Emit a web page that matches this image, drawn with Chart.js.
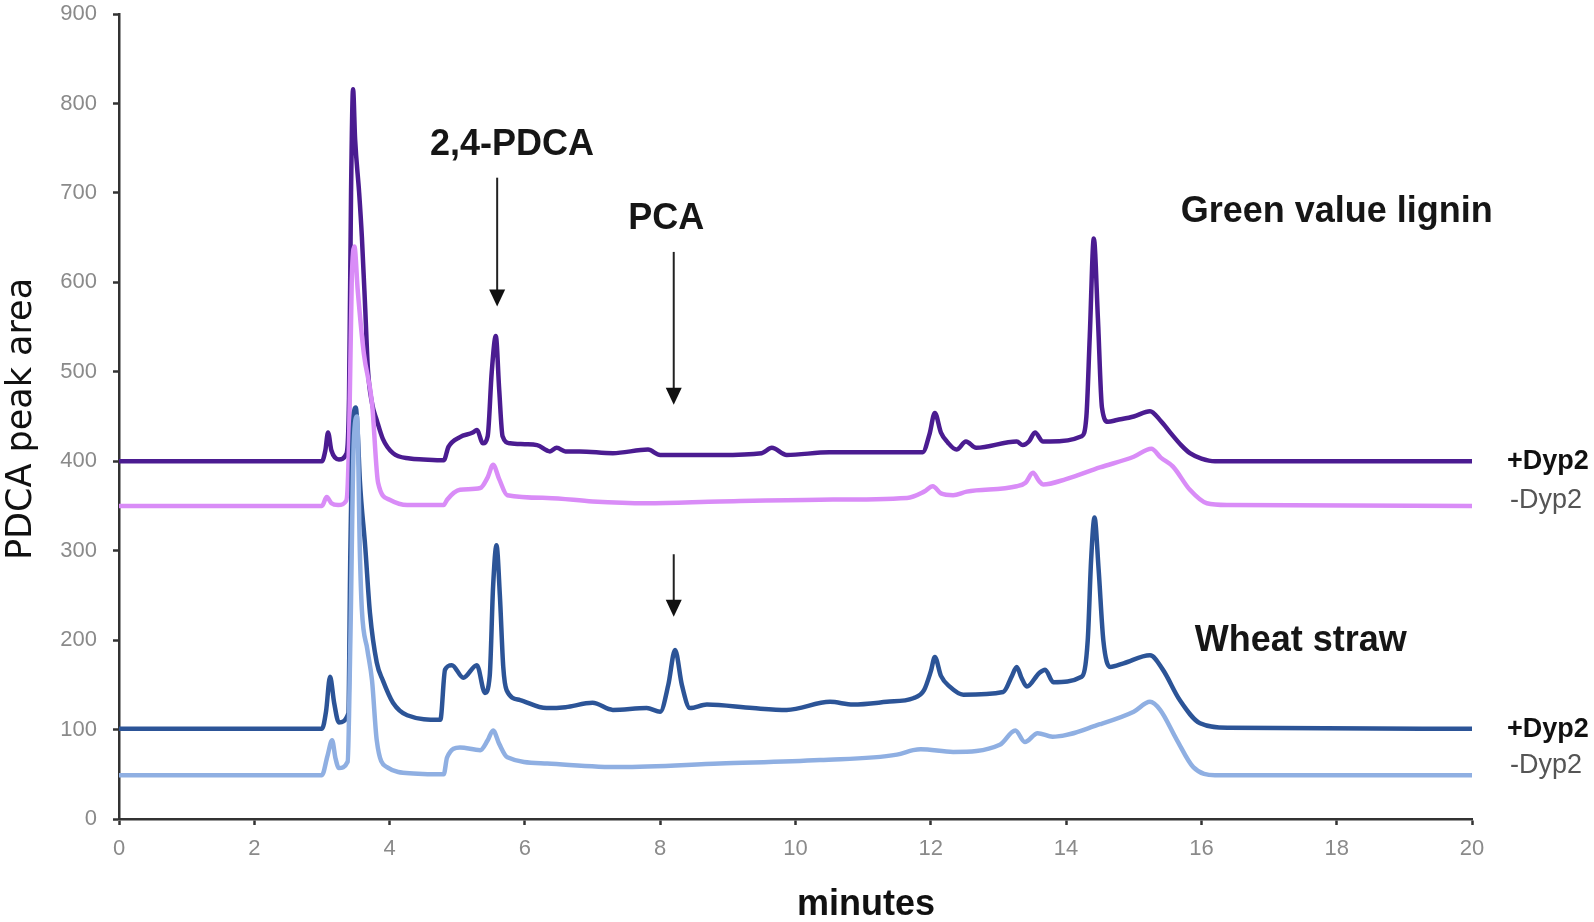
<!DOCTYPE html>
<html>
<head>
<meta charset="utf-8">
<script src="https://cdn.jsdelivr.net/npm/chart.js@4"></script>
<style>
  html, body { margin: 0; padding: 0; background: #fff; }
  #wrap { width: 1594px; height: 922px; position: relative; }
</style>
</head>
<body>
<div id="wrap"><canvas id="chromChart"></canvas></div>
<script>
/* ---------------------------------------
   CHROMATOGRAM DATA (minutes / peak area)
--------------------------------------- */

// Green value lignin, +Dyp2
const ligninPlusTime = [0, 3.0, 3.05, 3.09, 3.14, 3.25, 3.36, 3.40, 3.43, 3.46, 3.49, 3.55, 3.59, 3.64, 3.68, 3.74, 3.81, 3.9, 4.05, 4.3, 4.5, 4.8, 4.87, 5.04, 5.23, 5.29, 5.38, 5.45, 5.51, 5.57, 5.62, 5.67, 5.78, 6.0, 6.18, 6.37, 6.47, 6.6, 6.81, 7.3, 7.82, 8.0, 8.88, 9.5, 9.65, 9.87, 10.5, 11.35, 11.88, 11.98, 12.06, 12.15, 12.25, 12.38, 12.52, 12.67, 13.27, 13.36, 13.45, 13.54, 13.66, 13.76, 14.23, 14.3, 14.35, 14.41, 14.47, 14.53, 14.62, 14.75, 15.0, 15.24, 15.4, 15.54, 15.7, 15.83, 16.0, 16.2, 20];
const ligninPlusArea = [400, 400, 412, 432, 412, 402, 408, 470, 700, 816, 760, 700, 651, 570, 502, 465, 446, 425, 409, 403, 402, 401, 416, 427, 432, 435, 420, 428, 500, 540, 480, 428, 420, 419, 418, 411, 415, 411, 411, 409, 413, 407, 407, 409, 415, 407, 410, 410, 410, 430, 454, 432, 421, 413, 422, 415, 422, 418, 422, 432, 422, 422, 428, 450, 540, 649, 560, 460, 444, 446, 450, 456, 445, 432, 418, 409, 403, 400, 400];

// Green value lignin, -Dyp2
const ligninMinusTime = [0, 3.0, 3.07, 3.14, 3.24, 3.36, 3.40, 3.44, 3.48, 3.53, 3.62, 3.74, 3.83, 4.0, 4.26, 4.8, 4.85, 5.04, 5.34, 5.45, 5.53, 5.62, 5.74, 6.33, 7.0, 7.8, 8.88, 10.36, 11.65, 11.9, 12.03, 12.15, 12.33, 12.53, 13.27, 13.4, 13.51, 13.6, 13.66, 14.0, 14.5, 15.0, 15.26, 15.4, 15.58, 15.83, 16.08, 16.4, 20];
const ligninMinusArea = [350, 350, 360, 353, 351, 356, 420, 600, 640, 590, 520, 465, 376, 357, 351, 351, 357, 368, 370, 382, 396, 380, 362, 359, 355, 353, 355, 357, 359, 366, 372, 364, 362, 366, 372, 376, 387, 378, 374, 380, 393, 405, 414, 404, 394, 368, 353, 351, 350];

// Wheat straw, +Dyp2
const wheatPlusTime = [0, 3.0, 3.06, 3.12, 3.18, 3.25, 3.39, 3.42, 3.46, 3.5, 3.53, 3.56, 3.64, 3.71, 3.81, 3.9, 4.05, 4.26, 4.75, 4.82, 4.92, 5.09, 5.29, 5.41, 5.48, 5.53, 5.58, 5.63, 5.68, 5.73, 5.93, 6.32, 6.6, 7.0, 7.3, 7.8, 8.0, 8.12, 8.22, 8.32, 8.44, 8.69, 9.37, 9.87, 10.51, 10.85, 11.35, 11.74, 11.9, 12.0, 12.06, 12.15, 12.28, 12.48, 13.07, 13.2, 13.27, 13.34, 13.42, 13.6, 13.69, 13.81, 14.23, 14.32, 14.37, 14.42, 14.48, 14.55, 14.65, 14.85, 15.24, 15.43, 15.68, 15.98, 16.4, 20];
const wheatPlusArea = [101, 101, 120, 159, 130, 108, 118, 300, 440, 460, 430, 379, 304, 230, 175, 155, 130, 116, 111, 167, 172, 158, 172, 141, 160, 260, 306, 250, 170, 144, 133, 124, 125, 130, 122, 124, 120, 150, 189, 150, 124, 128, 124, 122, 131, 128, 131, 135, 144, 165, 181, 160, 148, 139, 142, 160, 170, 158, 148, 163, 167, 153, 159, 200, 290, 337, 280, 200, 170, 174, 183, 167, 133, 107, 102, 101];

// Wheat straw, -Dyp2
const wheatMinusTime = [0, 3.0, 3.08, 3.15, 3.2, 3.25, 3.38, 3.42, 3.47, 3.52, 3.56, 3.59, 3.67, 3.74, 3.81, 3.96, 4.35, 4.8, 4.85, 5.04, 5.34, 5.45, 5.53, 5.62, 5.74, 6.33, 7.4, 8.88, 10.36, 11.5, 11.74, 11.85, 12.33, 13.02, 13.25, 13.39, 13.58, 13.8, 14.5, 15.0, 15.24, 15.39, 15.64, 15.88, 16.2, 20];
const wheatMinusArea = [49, 49, 70, 88, 68, 57, 64, 200, 420, 450, 300, 234, 190, 155, 88, 58, 51, 50, 69, 80, 77, 88, 99, 84, 69, 62, 58, 62, 66, 72, 77, 78, 75, 83, 99, 86, 96, 92, 106, 120, 131, 122, 88, 58, 49, 49];

// axis ticks
const xTicks = [0, 2, 4, 6, 8, 10, 12, 14, 16, 18, 20];
const yTicks = [0, 100, 200, 300, 400, 500, 600, 700, 800, 900];

function toPoints(t, a) {
    return t.map((x, i) => ({ x: x, y: a[i] }));
}

const FONT = '"Liberation Sans", Arial, sans-serif';

/* ---------------------------------------
   TEXT + ARROW OVERLAY
--------------------------------------- */
function drawArrow(ctx, x, yTop, yTip) {
    ctx.beginPath();
    ctx.moveTo(x, yTop);
    ctx.lineTo(x, yTip - 14);
    ctx.lineWidth = 2;
    ctx.strokeStyle = '#222';
    ctx.stroke();
    ctx.beginPath();
    ctx.moveTo(x - 8, yTip - 17);
    ctx.lineTo(x + 8, yTip - 17);
    ctx.lineTo(x, yTip);
    ctx.closePath();
    ctx.fillStyle = '#111';
    ctx.fill();
}

const overlayPlugin = {
    id: 'overlay',
    afterDraw(chart) {
        const ctx = chart.ctx;
        const xs = chart.scales.x, ys = chart.scales.y;
        const px = v => xs.getPixelForValue(v);
        const py = v => ys.getPixelForValue(v);
        ctx.save();

        // peak annotations
        ctx.fillStyle = '#161616';
        ctx.textAlign = 'center';
        ctx.textBaseline = 'middle';
        ctx.font = 'bold 36px ' + FONT;
        ctx.fillText('2,4-PDCA', px(5.81), py(754));
        ctx.fillText('PCA', px(8.09), py(671));
        ctx.fillText('Green value lignin', px(18.0), py(678));
        ctx.fillText('Wheat straw', px(17.47), py(199));

        drawArrow(ctx, px(5.59), py(717), py(573));
        drawArrow(ctx, px(8.2), py(634), py(463));
        drawArrow(ctx, px(8.2), py(296), py(226));

        // trace labels at the right end
        const lx = chart.chartArea.right + 35;
        ctx.textAlign = 'left';
        ctx.fillStyle = '#111';
        ctx.font = 'bold 27px ' + FONT;
        ctx.fillText('+Dyp2', lx, py(400));
        ctx.fillText('+Dyp2', lx, py(100));
        ctx.fillStyle = '#555';
        ctx.font = '27px ' + FONT;
        ctx.fillText('-Dyp2', lx + 3, py(350) - 5);
        ctx.fillText('-Dyp2', lx + 3, py(49) - 10);

        // axis titles
        ctx.fillStyle = '#111';
        ctx.textAlign = 'center';
        ctx.font = 'bold 36px ' + FONT;
        ctx.fillText('minutes', 866, 905);
        ctx.translate(22, 419);
        ctx.rotate(-Math.PI / 2);
        ctx.font = '35px "DejaVu Sans", sans-serif';
        ctx.fillText('PDCA peak area', 0, 0);
        ctx.restore();
    }
};

/* ---------------------------------------
   CHART
--------------------------------------- */
const lineBase = {
    pointRadius: 0,
    borderWidth: 4.5,
    fill: false,
    cubicInterpolationMode: 'monotone',
    borderJoinStyle: 'round',
    borderCapStyle: 'round'
};

new Chart(document.getElementById('chromChart'), {
    type: 'line',
    data: {
        datasets: [
            Object.assign({ label: 'Green value lignin +Dyp2', data: toPoints(ligninPlusTime, ligninPlusArea), borderColor: '#4b1c91', order: 4 }, lineBase),
            Object.assign({ label: 'Green value lignin -Dyp2', data: toPoints(ligninMinusTime, ligninMinusArea), borderColor: '#d98cf7', order: 3 }, lineBase),
            Object.assign({ label: 'Wheat straw +Dyp2', data: toPoints(wheatPlusTime, wheatPlusArea), borderColor: '#2c5497', order: 2 }, lineBase),
            Object.assign({ label: 'Wheat straw -Dyp2', data: toPoints(wheatMinusTime, wheatMinusArea), borderColor: '#8fafe2', order: 1 }, lineBase)
        ]
    },
    options: {
        responsive: true,
        maintainAspectRatio: false,
        animation: false,
        layout: { padding: { top: 14, right: 122, left: 0, bottom: 0 } },
        plugins: { legend: { display: false }, tooltip: { enabled: false } },
        scales: {
            x: {
                type: 'linear',
                min: 0, max: 20,
                afterFit: s => { s.height = 103; s.paddingLeft = 0; s.paddingRight = 0; },
                afterBuildTicks: s => { s.ticks = xTicks.map(v => ({ value: v })); },
                ticks: { color: '#8a8a8a', font: { family: FONT, size: 22 }, padding: 11, maxRotation: 0 },
                grid: { drawOnChartArea: false, drawTicks: true, tickLength: 6, tickWidth: 2.5, tickColor: '#333' },
                border: { display: true, width: 2.5, color: '#333' }
            },
            y: {
                min: 0, max: 900,
                afterFit: s => { s.width = 119; s.paddingTop = 0; s.paddingBottom = 0; },
                afterBuildTicks: s => { s.ticks = yTicks.map(v => ({ value: v })); },
                ticks: { color: '#8a8a8a', font: { family: FONT, size: 22 }, padding: 16 },
                grid: { drawOnChartArea: false, drawTicks: true, tickLength: 6, tickWidth: 2.5, tickColor: '#333' },
                border: { display: true, width: 2.5, color: '#333' }
            }
        }
    },
    plugins: [overlayPlugin]
});
</script>
</body>
</html>
